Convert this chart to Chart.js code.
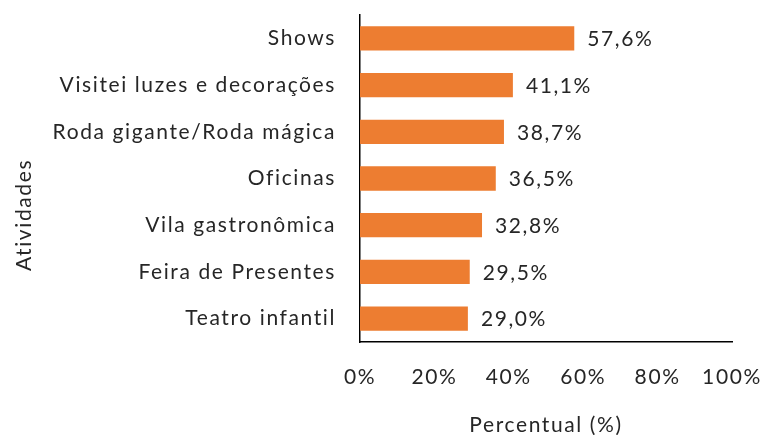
<!DOCTYPE html>
<html lang="pt">
<head>
    <meta charset="UTF-8">
    <title>Atividades</title>
    <script src="https://cdn.jsdelivr.net/npm/chart.js"></script>
    <style>
        body {
            margin: 0;
            background-color: #fff;
        }
        #wrap {
            width: 762px;
            height: 435px;
        }
    </style>
</head>
<body>
    <div id="wrap"><canvas id="chart" width="762" height="435"></canvas></div>

    <script>
        const categories = [
            'Shows',
            'Visitei luzes e decorações',
            'Roda gigante/Roda mágica',
            'Oficinas',
            'Vila gastronômica',
            'Feira de Presentes',
            'Teatro infantil'
        ];
        const values = [57.6, 41.1, 38.7, 36.5, 32.8, 29.5, 29.0];
        const xTicks = [0, 20, 40, 60, 80, 100];

        const FONT = 'Lato, "Open Sans", sans-serif';
        const SIZE = 21;
        const TEXT = '#262626';
        const SPACING = '1.6px';

        // wider letter spacing, closer to the original rendering
        const spacing = {
            id: 'spacing',
            beforeUpdate(chart) { chart.ctx.letterSpacing = SPACING; },
            beforeDraw(chart) { chart.ctx.letterSpacing = SPACING; }
        };

        // value next to each bar and the vertical axis title
        const extraText = {
            id: 'extraText',
            afterDatasetsDraw(chart) {
                const ctx = chart.ctx;
                const meta = chart.getDatasetMeta(0);
                ctx.save();
                ctx.letterSpacing = SPACING;
                ctx.font = SIZE + 'px ' + FONT;
                ctx.fillStyle = TEXT;
                ctx.textBaseline = 'middle';
                meta.data.forEach((bar, i) => {
                    const txt = values[i].toFixed(1).replace('.', ',') + '%';
                    ctx.fillText(txt, bar.x + 13, bar.y + 1);
                });
                ctx.translate(24, 215);
                ctx.rotate(-Math.PI / 2);
                ctx.textAlign = 'center';
                ctx.fillText('Atividades', 0, 0);
                ctx.restore();
            }
        };

        new Chart(document.getElementById('chart'), {
            type: 'bar',
            data: {
                labels: categories,
                datasets: [{
                    data: values,
                    backgroundColor: '#ED7D31',
                    categoryPercentage: 0.52,
                    barPercentage: 1
                }]
            },
            plugins: [spacing, extraText],
            options: {
                indexAxis: 'y',
                responsive: false,
                animation: false,
                layout: {
                    padding: { top: 15, right: 30, left: 8, bottom: 0 }
                },
                plugins: {
                    legend: { display: false },
                    tooltip: { enabled: false }
                },
                scales: {
                    x: {
                        min: 0,
                        max: 100,
                        afterBuildTicks: (axis) => {
                            axis.ticks = xTicks.map(v => ({ value: v }));
                        },
                        afterFit: (axis) => {
                            axis.height = 93;
                            axis.paddingLeft = 0;
                            axis.paddingRight = 0;
                        },
                        grid: { display: false, drawTicks: false },
                        border: { display: true, color: '#000', width: 1.5 },
                        ticks: {
                            padding: 23,
                            color: TEXT,
                            font: { family: FONT, size: SIZE },
                            callback: (v) => v + '%'
                        },
                        title: {
                            display: true,
                            text: 'Percentual (%)',
                            color: TEXT,
                            font: { family: FONT, size: SIZE },
                            padding: { top: 24, bottom: -3 }
                        }
                    },
                    y: {
                        afterFit: (axis) => {
                            axis.width = 352;
                            axis.paddingTop = 0;
                            axis.paddingBottom = 0;
                        },
                        grid: { display: false, drawTicks: false },
                        border: { display: true, color: '#000', width: 1.5 },
                        ticks: {
                            padding: 24,
                            color: TEXT,
                            font: { family: FONT, size: SIZE }
                        }
                    }
                }
            }
        });
    </script>
</body>
</html>
